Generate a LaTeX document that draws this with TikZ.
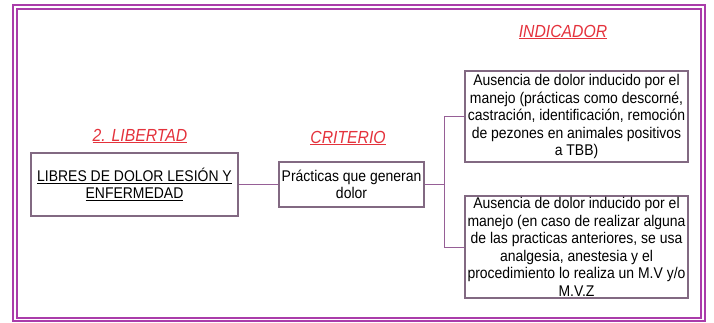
\documentclass[tikz,border=0pt]{standalone}
\usepackage{fontspec}
\setmainfont{Liberation Sans}
\newfontfamily\narrowsans[FakeStretch=0.9]{Liberation Sans}
\definecolor{framepurple}{RGB}{170,60,170}
\definecolor{boxline}{RGB}{130,105,130}
\definecolor{linkline}{RGB}{150,95,150}
\definecolor{labelred}{RGB}{228,50,60}
\tikzset{
  box/.style={draw=boxline, line width=1.1pt, fill=white, inner sep=0pt, align=center,
    font=\narrowsans\fontsize{15.5}{17.5}\selectfont},
  heading/.style={text=labelred, font=\narrowsans\fontsize{17.5}{19}\selectfont\itshape, inner sep=0pt},
  link/.style={draw=linkline, line width=1pt}
}

\begin{document}
\begin{tikzpicture}[x=1pt,y=-1pt]
            \useasboundingbox (0,0) rectangle (714,322);

            % Frame
            \draw[framepurple, line width=1.6pt] (13,5) rectangle (705,321);
            \draw[framepurple, line width=1.4pt] (17,9) rectangle (701,318);

            % Headings
            \node[heading] (libertad) at (140,136) {\underline{2. LIBERTAD}};
            \node[heading] (criterio) at (348,138) {\underline{CRITERIO}};
            \node[heading] (indicador) at (563,32) {\underline{INDICADOR}};

            % First stage nodes
            \node[box, minimum width=207pt, minimum height=63pt] (libre) at (134.5,184.5)
                {\underline{LIBRES DE DOLOR LESIÓN Y}\\\underline{ENFERMEDAD}};

            % Second stage nodes
            \node[box, minimum width=145pt, minimum height=45pt] (crit) at (351.5,184.5)
                {Prácticas que generan\\dolor};
            \draw[link] (libre) -- (crit);

            % Third stage nodes
            \node[box, minimum width=223pt, minimum height=91pt] (ind1) at (576.5,116.5)
                {Ausencia de dolor inducido por el\\manejo (prácticas como descorné,\\castración, identificación, remoción\\de pezones en animales positivos\\a TBB)};
            \node[box, minimum width=223pt, minimum height=102pt] (ind2) at (576.5,247)
                {Ausencia de dolor inducido por el\\manejo (en caso de realizar alguna\\de las practicas anteriores, se usa\\analgesia, anestesia y el\\procedimiento lo realiza un M.V y/o\\M.V.Z};

            \coordinate (fork) at (444,184.5);
            \draw[link] (crit) -- (fork);
            \draw[link] (fork) |- (ind1);
            \draw[link] (fork) |- (ind2);
        \end{tikzpicture}
\end{document}
